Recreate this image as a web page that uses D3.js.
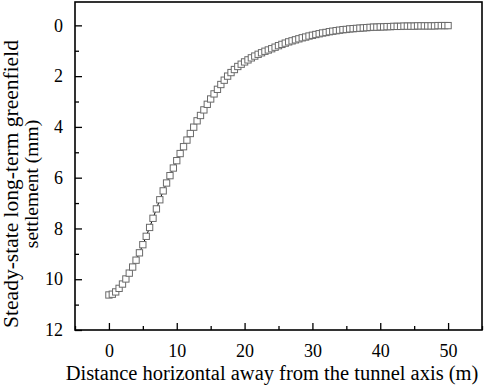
<!DOCTYPE html>
<html>
<head>
<meta charset="utf-8">
<script src="https://cdn.jsdelivr.net/npm/d3@7"></script>
<style>
  body { margin: 0; background: #fff; }
  svg { display: block; font-family: "Liberation Serif", "Times New Roman", serif; }
</style>
</head>
<body>
<script>
// distance from tunnel axis (m)
var distance = [0,0.5,1,1.5,2,2.5,3,3.5,4,4.5,5,5.5,6,6.5,7,7.5,8,8.5,9,9.5,
  10,10.5,11,11.5,12,12.5,13,13.5,14,14.5,15,15.5,16,16.5,17,17.5,18,18.5,19,19.5,
  20,20.5,21,21.5,22,22.5,23,23.5,24,24.5,25,25.5,26,26.5,27,27.5,28,28.5,29,29.5,
  30,30.5,31,31.5,32,32.5,33,33.5,34,34.5,35,35.5,36,36.5,37,37.5,38,38.5,39,39.5,
  40,40.5,41,41.5,42,42.5,43,43.5,44,44.5,45,45.5,46,46.5,47,47.5,48,48.5,49,49.5,50];

// settlement (mm)
var settlement = [10.62,10.59,10.50,10.36,10.19,9.99,9.76,9.52,9.25,8.96,
  8.64,8.31,7.96,7.60,7.23,6.87,6.52,6.21,5.92,5.62,
  5.33,5.05,4.78,4.52,4.26,4.01,3.76,3.55,3.33,3.11,
  2.90,2.70,2.52,2.33,2.16,2.00,1.86,1.74,1.62,1.53,
  1.44,1.36,1.28,1.21,1.14,1.08,1.02,0.97,0.92,0.86,
  0.80,0.75,0.70,0.65,0.61,0.57,0.53,0.49,0.46,0.42,
  0.39,0.36,0.33,0.30,0.28,0.25,0.23,0.21,0.19,0.17,
  0.16,0.14,0.13,0.12,0.11,0.10,0.09,0.08,0.07,0.07,
  0.06,0.06,0.05,0.05,0.04,0.04,0.04,0.03,0.03,0.03,
  0.03,0.02,0.02,0.02,0.02,0.02,0.02,0.01,0.01,0.01,0.01];

var xTicks = [0, 10, 20, 30, 40, 50],
    xMinor = [-5, 5, 15, 25, 35, 45, 55],
    yTicks = [0, 2, 4, 6, 8, 10, 12],
    yMinor = [1, 3, 5, 7, 9, 11];

var width = 484,
    height = 388;
//plot frame (pixels)
var pLeft = 75, pRight = 482, pTop = 2, pBottom = 330;

var svg = d3.select("body").append("svg")
    .attr("width", width)
    .attr("height", height);

var x = d3.scaleLinear().domain([-5, 55]).range([pLeft, pRight]);
var y = d3.scaleLinear().domain([-0.92, 12]).range([pTop, pBottom]);

//minor ticks first
svg.append("g")
    .attr("transform", "translate(0," + pBottom + ")")
    .call(d3.axisBottom(x).tickValues(xMinor).tickSize(-4).tickFormat(""))
    .call(g => g.select(".domain").remove());
svg.append("g")
    .attr("transform", "translate(" + pLeft + ",0)")
    .call(d3.axisLeft(y).tickValues(yMinor).tickSize(-4).tickFormat(""))
    .call(g => g.select(".domain").remove());

var xAxis = svg.append("g")
    .attr("transform", "translate(0," + pBottom + ")")
    .call(d3.axisBottom(x).tickValues(xTicks).tickSize(-7).tickPadding(14));
xAxis.select(".domain").remove();

var yAxis = svg.append("g")
    .attr("transform", "translate(" + pLeft + ",0)")
    .call(d3.axisLeft(y).tickValues(yTicks).tickSize(-7).tickPadding(12));
yAxis.select(".domain").remove();

svg.selectAll(".tick text")
    .attr("font-size", 18)
    .attr("font-family", "Liberation Serif")
    .attr("fill", "#000");
svg.selectAll(".tick line").attr("stroke", "#000").attr("stroke-width", 1.3);

//frame
svg.append("rect")
    .attr("x", pLeft).attr("y", pTop)
    .attr("width", pRight - pLeft).attr("height", pBottom - pTop)
    .attr("fill", "none")
    .attr("stroke", "#000")
    .attr("stroke-width", 1.6);

var pts = distance.map(function(d, i) { return [d, settlement[i]]; });

svg.append("path")
    .datum(pts)
    .attr("fill", "none")
    .attr("stroke", "#000")
    .attr("stroke-width", 1)
    .attr("d", d3.line().x(d => x(d[0])).y(d => y(d[1])));

var s = 6.3;
svg.append("g").selectAll("rect")
    .data(pts)
    .enter().append("rect")
    .attr("x", d => x(d[0]) - s / 2)
    .attr("y", d => y(d[1]) - s / 2)
    .attr("width", s).attr("height", s)
    .attr("fill", "#fff")
    .attr("stroke", "#6a6a6a")
    .attr("stroke-width", 1);

svg.append("text")
    .attr("x", 272)
    .attr("y", 380)
    .attr("text-anchor", "middle")
    .attr("font-size", 20.5)
    .text("Distance horizontal away from the tunnel axis (m)");

var yl = svg.append("text")
    .attr("transform", "translate(0,184) rotate(-90)")
    .attr("text-anchor", "middle");
yl.append("tspan").attr("x", 0).attr("y", 18).attr("font-size", 21.5)
    .text("Steady-state long-term greenfield");
yl.append("tspan").attr("x", 0).attr("y", 38).attr("font-size", 19.5)
    .text("settlement (mm)");
</script>
</body>
</html>
